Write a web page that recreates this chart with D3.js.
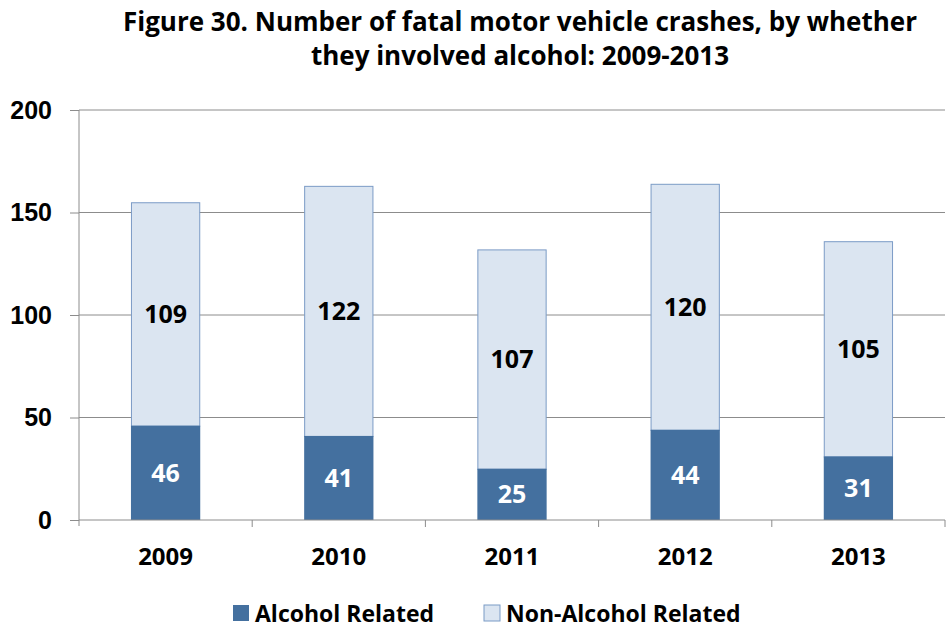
<!DOCTYPE html>
<meta charset="utf-8">
<style>
  body { margin: 0; background: #fff; font-family: "Open Sans", Lato, sans-serif; }
  text { font-weight: bold; }
  .grid line { stroke: #8c8c8c; stroke-width: 1; }
  .axis path, .axis line { stroke: #8c8c8c; }
</style>
<body>
<div id="chart"></div>
<script src="https://d3js.org/d3.v7.min.js"></script>
<script>
  var years = ["2009", "2010", "2011", "2012", "2013"];
  var alcohol = [46, 41, 25, 44, 31];
  var nonAlcohol = [109, 122, 107, 120, 105];
  var yTicks = [0, 50, 100, 150, 200];
  var seriesNames = ["Alcohol Related", "Non-Alcohol Related"];
  var titleLines = ["Figure 30. Number of fatal motor vehicle crashes, by whether",
                    "they involved alcohol: 2009-2013"];

  var width = 948, height = 629,
      margin = {top: 110, right: 3, bottom: 109, left: 79},
      w = width - margin.left - margin.right,
      h = height - margin.top - margin.bottom;

  var colors = {dark: "#44709f", light: "#dbe5f1", lightStroke: "#7b9bc6"};

  var svg = d3.select("#chart").append("svg")
      .attr("width", width)
      .attr("height", height);

  svg.selectAll("text.title")
      .data(titleLines)
    .enter().append("text")
      .attr("class", "title")
      .attr("x", 520)
      .attr("y", function(d, i) { return 31 + i * 34; })
      .attr("text-anchor", "middle")
      .style("font-size", "26px")
      .text(function(d) { return d; });

  var g = svg.append("g")
      .attr("transform", "translate(" + margin.left + "," + margin.top + ")");

  var x = d3.scaleBand().domain(years).range([0, w]).paddingInner(0.6).paddingOuter(0.3);
  var xb = d3.scaleBand().domain(years).range([0, w]);
  var y = d3.scaleLinear().domain([0, 200]).range([h, 0]);

  // gridlines
  g.append("g").attr("class", "grid")
    .selectAll("line")
      .data(yTicks.slice(1))
    .enter().append("line")
      .attr("x1", 0).attr("x2", w)
      .attr("y1", function(d) { return y(d); })
      .attr("y2", function(d) { return y(d); });

  // y axis
  var yAxis = g.append("g").attr("class", "axis")
      .call(d3.axisLeft(y).tickValues(yTicks).tickSize(9).tickPadding(18));
  yAxis.selectAll("text").style("font-size", "25px").attr("fill", "#000");
  yAxis.select(".domain").attr("d", "M0,0V" + (h + 6));

  var data = years.map(function(yr, i) {
    return {year: yr, a: alcohol[i], n: nonAlcohol[i]};
  });

  // non-alcohol segments
  g.selectAll("rect.non")
      .data(data)
    .enter().append("rect")
      .attr("class", "non")
      .attr("x", function(d) { return x(d.year) + 0.5; })
      .attr("width", x.bandwidth() - 1)
      .attr("y", function(d) { return y(d.a + d.n) + 0.5; })
      .attr("height", function(d) { return y(d.a) - y(d.a + d.n); })
      .attr("fill", colors.light)
      .attr("stroke", colors.lightStroke)
      .attr("stroke-width", 1);

  // alcohol segments
  g.selectAll("rect.alc")
      .data(data)
    .enter().append("rect")
      .attr("class", "alc")
      .attr("x", function(d) { return x(d.year); })
      .attr("width", x.bandwidth())
      .attr("y", function(d) { return y(d.a); })
      .attr("height", function(d) { return h - y(d.a); })
      .attr("fill", colors.dark);

  // x axis
  var xAxis = g.append("g").attr("class", "axis")
      .attr("transform", "translate(0," + h + ")");
  xAxis.append("line").attr("x1", 0).attr("x2", w);
  xAxis.selectAll("line.tick")
      .data(years.slice(1).concat(["end"]))
    .enter().append("line")
      .attr("class", "tick")
      .attr("x1", function(d, i) { return xb.step() * (i + 1); })
      .attr("x2", function(d, i) { return xb.step() * (i + 1); })
      .attr("y1", 0).attr("y2", 7);
  xAxis.selectAll("text")
      .data(years)
    .enter().append("text")
      .attr("x", function(d) { return xb(d) + xb.bandwidth() / 2; })
      .attr("y", 45)
      .attr("text-anchor", "middle")
      .style("font-size", "24px")
      .text(function(d) { return d; });

  // value labels
  g.selectAll("text.alab")
      .data(data)
    .enter().append("text")
      .attr("x", function(d) { return x(d.year) + x.bandwidth() / 2; })
      .attr("y", function(d) { return y(d.a / 2); })
      .attr("dy", "0.36em")
      .attr("text-anchor", "middle")
      .attr("fill", "#fff")
      .style("font-size", "25px")
      .text(function(d) { return d.a; });

  g.selectAll("text.nlab")
      .data(data)
    .enter().append("text")
      .attr("x", function(d) { return x(d.year) + x.bandwidth() / 2; })
      .attr("y", function(d) { return y(d.a + d.n / 2); })
      .attr("dy", "0.36em")
      .attr("text-anchor", "middle")
      .attr("fill", "#000")
      .style("font-size", "25px")
      .text(function(d) { return d.n; });

  // legend
  var legend = svg.append("g").attr("transform", "translate(233,622)");
  var legX = [0, 251];
  seriesNames.forEach(function(name, i) {
    legend.append("rect")
      .attr("x", legX[i]).attr("y", -17)
      .attr("width", 16).attr("height", 16)
      .attr("fill", i === 0 ? colors.dark : colors.light)
      .attr("stroke", i === 0 ? "none" : colors.lightStroke);
    legend.append("text")
      .attr("x", legX[i] + 22).attr("y", 0)
      .style("font-size", "23px")
      .text(name);
  });
</script>
</body>
